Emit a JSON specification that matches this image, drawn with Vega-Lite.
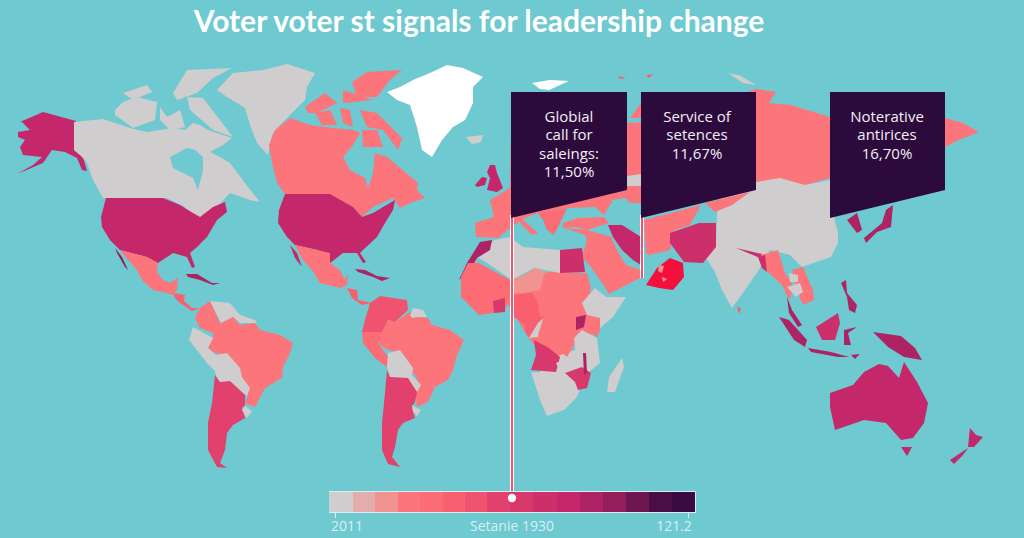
{"$schema":"https://vega.github.io/schema/vega-lite/v6.json","width":1024,"height":538,"padding":0,"autosize":{"type":"none"},"background":"#6FC9D1","config":{"view":{"stroke":null}},
"projection":{"type":"identity"},
"datasets":{"shapes":[
{"type":"Feature","properties":{"name":"ocean","band":"sea"},"geometry":{"type":"Polygon","coordinates":[[[0,0],[1024,0],[1024,538],[0,538],[0,0]]]}},
{"type":"Feature","properties":{"name":"Alaska A","band":"s10"},"geometry":{"type":"Polygon","coordinates":[[[20,122],[43,112],[76,121],[74,150],[83,157],[87,171],[82,170],[77,158],[65,152],[52,150],[43,163],[17,174],[33,165],[42,157],[23,155],[20,147],[25,140],[18,137],[18,132],[30,130],[22,122],[20,122]]]}},
{"type":"Feature","properties":{"name":"Canada A","band":"s0"},"geometry":{"type":"Polygon","coordinates":[[[74,122],[103,119],[130,128],[147,132],[173,128],[185,130],[193,123],[200,125],[208,130],[232,138],[223,145],[210,152],[220,157],[230,163],[248,187],[260,202],[250,200],[230,193],[217,207],[197,220],[190,222],[185,207],[167,198],[103,198],[93,180],[87,163],[82,157],[74,150],[74,122]]]}},
{"type":"Feature","properties":{"name":"Hudson A","band":"sea"},"geometry":{"type":"Polygon","coordinates":[[[170,157],[187,148],[195,150],[203,157],[203,170],[198,190],[193,178],[173,168],[170,157]]]}},
{"type":"Feature","properties":{"name":"Arctic A1","band":"s0"},"geometry":{"type":"Polygon","coordinates":[[[115,110],[123,102],[137,97],[157,102],[155,120],[133,128],[115,115],[115,110]]]}},
{"type":"Feature","properties":{"name":"Arctic A2","band":"s0"},"geometry":{"type":"Polygon","coordinates":[[[160,107],[167,117],[180,110],[185,127],[170,130],[160,120],[160,107]]]}},
{"type":"Feature","properties":{"name":"Arctic A3","band":"s0"},"geometry":{"type":"Polygon","coordinates":[[[123,93],[147,85],[152,92],[133,100],[123,93]]]}},
{"type":"Feature","properties":{"name":"Arctic A4","band":"s0"},"geometry":{"type":"Polygon","coordinates":[[[173,93],[187,70],[232,68],[213,78],[197,93],[177,100],[173,93]]]}},
{"type":"Feature","properties":{"name":"Arctic A5","band":"s0"},"geometry":{"type":"Polygon","coordinates":[[[187,97],[203,98],[233,137],[213,130],[190,110],[187,97]]]}},
{"type":"Feature","properties":{"name":"Greenland A","band":"s0"},"geometry":{"type":"Polygon","coordinates":[[[217,90],[233,73],[263,70],[287,64],[315,73],[307,87],[305,100],[297,108],[280,125],[272,135],[268,155],[257,143],[250,125],[245,108],[227,97],[217,90]]]}},
{"type":"Feature","properties":{"name":"Canada B","band":"s3"},"geometry":{"type":"Polygon","coordinates":[[[269,145],[275,130],[290,118],[310,125],[333,128],[353,130],[360,133],[353,145],[343,157],[350,170],[365,178],[368,188],[373,173],[375,153],[387,157],[405,172],[418,183],[417,190],[425,198],[410,203],[400,208],[393,198],[373,207],[362,217],[353,207],[340,200],[330,194],[285,194],[277,183],[272,163],[269,145]]]}},
{"type":"Feature","properties":{"name":"Arctic B1","band":"s3"},"geometry":{"type":"Polygon","coordinates":[[[352,82],[367,72],[402,70],[390,80],[377,97],[357,97],[352,82]]]}},
{"type":"Feature","properties":{"name":"Arctic B2","band":"s3"},"geometry":{"type":"Polygon","coordinates":[[[305,107],[325,93],[337,103],[317,113],[308,113],[305,107]]]}},
{"type":"Feature","properties":{"name":"Arctic B3","band":"s3"},"geometry":{"type":"Polygon","coordinates":[[[315,113],[330,110],[337,125],[322,125],[315,113]]]}},
{"type":"Feature","properties":{"name":"Arctic B4","band":"s3"},"geometry":{"type":"Polygon","coordinates":[[[360,110],[377,113],[402,138],[398,150],[383,130],[367,127],[363,118],[360,110]]]}},
{"type":"Feature","properties":{"name":"Arctic B5","band":"s3"},"geometry":{"type":"Polygon","coordinates":[[[340,108],[350,110],[353,127],[343,123],[340,108]]]}},
{"type":"Feature","properties":{"name":"Arctic B6","band":"s3"},"geometry":{"type":"Polygon","coordinates":[[[343,90],[373,100],[343,103],[343,90]]]}},
{"type":"Feature","properties":{"name":"Arctic B7","band":"s3"},"geometry":{"type":"Polygon","coordinates":[[[362,130],[377,130],[383,147],[363,147],[362,130]]]}},
{"type":"Feature","properties":{"name":"USA A","band":"s10"},"geometry":{"type":"Polygon","coordinates":[[[106,198],[163,198],[180,205],[193,213],[200,217],[213,207],[225,202],[227,212],[217,220],[207,237],[197,247],[190,253],[195,267],[192,268],[187,257],[173,253],[158,263],[147,257],[120,250],[110,240],[102,227],[101,217],[106,198]]]}},
{"type":"Feature","properties":{"name":"USA B","band":"s10"},"geometry":{"type":"Polygon","coordinates":[[[285,194],[330,194],[353,207],[362,217],[373,213],[395,200],[393,210],[385,223],[377,237],[363,250],[360,253],[366,262],[363,263],[357,253],[343,253],[330,263],[318,250],[295,245],[287,237],[278,223],[279,210],[285,194]]]}},
{"type":"Feature","properties":{"name":"Baja A","band":"s12"},"geometry":{"type":"Polygon","coordinates":[[[115,248],[122,257],[128,270],[125,267],[117,253],[115,248]]]}},
{"type":"Feature","properties":{"name":"Baja B","band":"s10"},"geometry":{"type":"Polygon","coordinates":[[[290,245],[297,253],[302,267],[295,258],[290,245]]]}},
{"type":"Feature","properties":{"name":"Mexico A","band":"s3"},"geometry":{"type":"Polygon","coordinates":[[[120,250],[147,257],[158,263],[157,272],[163,280],[170,283],[178,278],[177,290],[172,295],[167,293],[153,290],[142,280],[137,270],[128,260],[120,250]]]}},
{"type":"Feature","properties":{"name":"Mexico B","band":"s3"},"geometry":{"type":"Polygon","coordinates":[[[295,245],[330,253],[330,263],[340,270],[345,280],[348,273],[347,285],[340,288],[320,283],[312,270],[303,260],[295,245]]]}},
{"type":"Feature","properties":{"name":"Central America A","band":"s5"},"geometry":{"type":"Polygon","coordinates":[[[173,293],[185,295],[184,301],[192,308],[200,308],[192,311],[180,303],[175,298],[173,293]]]}},
{"type":"Feature","properties":{"name":"Central America B","band":"s5"},"geometry":{"type":"Polygon","coordinates":[[[347,288],[357,290],[358,300],[372,303],[362,305],[352,298],[347,288]]]}},
{"type":"Feature","properties":{"name":"Cuba A","band":"s11"},"geometry":{"type":"Polygon","coordinates":[[[186,274],[197,274],[212,283],[220,283],[213,285],[200,280],[188,277],[186,274]]]}},
{"type":"Feature","properties":{"name":"Cuba B","band":"s11"},"geometry":{"type":"Polygon","coordinates":[[[355,269],[365,270],[377,276],[390,278],[382,281],[373,277],[358,272],[355,269]]]}},
{"type":"Feature","properties":{"name":"Colombia A","band":"s3"},"geometry":{"type":"Polygon","coordinates":[[[210,301],[220,323],[213,333],[200,328],[195,318],[200,308],[210,301]]]}},
{"type":"Feature","properties":{"name":"Venezuela A","band":"s0"},"geometry":{"type":"Polygon","coordinates":[[[210,301],[230,303],[240,315],[255,320],[257,323],[240,323],[233,317],[222,325],[210,301]]]}},
{"type":"Feature","properties":{"name":"Brazil A","band":"s3"},"geometry":{"type":"Polygon","coordinates":[[[213,327],[233,317],[240,325],[255,323],[260,330],[280,335],[293,343],[290,353],[283,367],[282,378],[265,388],[255,407],[245,403],[248,395],[240,373],[227,355],[215,353],[207,347],[208,342],[213,338],[213,327]]]}},
{"type":"Feature","properties":{"name":"Peru A","band":"s0"},"geometry":{"type":"Polygon","coordinates":[[[193,327],[213,338],[208,348],[216,355],[216,372],[207,363],[189,340],[193,327]]]}},
{"type":"Feature","properties":{"name":"Bolivia A","band":"s0"},"geometry":{"type":"Polygon","coordinates":[[[216,355],[227,353],[240,368],[242,377],[250,388],[247,396],[230,382],[218,382],[215,372],[216,355]]]}},
{"type":"Feature","properties":{"name":"Argentina A","band":"s7"},"geometry":{"type":"Polygon","coordinates":[[[215,375],[220,382],[230,381],[245,395],[245,405],[242,408],[245,418],[233,425],[227,433],[225,450],[220,463],[227,468],[217,467],[208,450],[208,423],[212,403],[215,375]]]}},
{"type":"Feature","properties":{"name":"Uruguay A","band":"s0"},"geometry":{"type":"Polygon","coordinates":[[[245,406],[252,411],[247,418],[242,410],[245,406]]]}},
{"type":"Feature","properties":{"name":"Colombia B","band":"s6"},"geometry":{"type":"Polygon","coordinates":[[[370,303],[380,296],[407,300],[408,310],[395,322],[388,320],[383,332],[378,340],[370,333],[362,332],[365,320],[370,303]]]}},
{"type":"Feature","properties":{"name":"Peru B","band":"s4"},"geometry":{"type":"Polygon","coordinates":[[[362,332],[377,332],[383,332],[378,343],[388,357],[387,367],[375,358],[363,343],[362,332]]]}},
{"type":"Feature","properties":{"name":"Brazil B","band":"s3"},"geometry":{"type":"Polygon","coordinates":[[[378,340],[388,320],[395,322],[410,312],[417,317],[428,318],[432,325],[450,330],[464,340],[457,355],[453,370],[448,380],[435,387],[428,402],[417,407],[415,393],[420,385],[412,370],[402,353],[388,350],[380,345],[378,340]]]}},
{"type":"Feature","properties":{"name":"Guyana B","band":"s0"},"geometry":{"type":"Polygon","coordinates":[[[410,315],[413,308],[423,310],[427,317],[417,317],[412,318],[410,315]]]}},
{"type":"Feature","properties":{"name":"Bolivia B","band":"s0"},"geometry":{"type":"Polygon","coordinates":[[[388,353],[400,350],[413,368],[412,375],[421,385],[417,392],[408,380],[390,377],[387,367],[388,353]]]}},
{"type":"Feature","properties":{"name":"Argentina B","band":"s7"},"geometry":{"type":"Polygon","coordinates":[[[387,370],[390,377],[408,378],[417,392],[415,402],[412,407],[415,418],[403,423],[398,430],[395,447],[392,457],[400,467],[388,464],[382,450],[382,423],[385,393],[387,370]]]}},
{"type":"Feature","properties":{"name":"Uruguay B","band":"s0"},"geometry":{"type":"Polygon","coordinates":[[[412,405],[421,410],[417,416],[413,412],[412,405]]]}},
{"type":"Feature","properties":{"name":"Greenland B","band":"white"},"geometry":{"type":"Polygon","coordinates":[[[387,92],[400,87],[413,80],[430,73],[447,65],[463,68],[483,77],[473,87],[473,103],[465,120],[453,127],[442,140],[432,157],[422,150],[417,127],[410,105],[397,100],[387,92]]]}},
{"type":"Feature","properties":{"name":"Iceland","band":"s0"},"geometry":{"type":"Polygon","coordinates":[[[466,137],[483,135],[481,142],[472,144],[466,137]]]}},
{"type":"Feature","properties":{"name":"Svalbard","band":"white"},"geometry":{"type":"Polygon","coordinates":[[[532,83],[550,80],[569,81],[549,90],[540,89],[532,83]]]}},
{"type":"Feature","properties":{"name":"Novaya Zemlya","band":"s0"},"geometry":{"type":"Polygon","coordinates":[[[728,73],[739,75],[756,85],[743,83],[728,73]]]}},
{"type":"Feature","properties":{"name":"Islet 1","band":"s5"},"geometry":{"type":"Polygon","coordinates":[[[618,76],[626,78],[620,79],[618,76]]]}},
{"type":"Feature","properties":{"name":"Islet 2","band":"s5"},"geometry":{"type":"Polygon","coordinates":[[[646,75],[653,74],[649,78],[646,75]]]}},
{"type":"Feature","properties":{"name":"Ireland","band":"s10"},"geometry":{"type":"Polygon","coordinates":[[[475,185],[482,177],[487,178],[485,185],[477,187],[475,185]]]}},
{"type":"Feature","properties":{"name":"Britain","band":"s10"},"geometry":{"type":"Polygon","coordinates":[[[490,165],[495,165],[497,173],[503,188],[497,192],[487,190],[490,178],[487,172],[490,165]]]}},
{"type":"Feature","properties":{"name":"Russia","band":"s3"},"geometry":{"type":"Polygon","coordinates":[[[756,89],[776,92],[769,103],[791,105],[830,117],[945,118],[963,123],[979,132],[959,140],[945,147],[880,190],[830,178],[805,185],[778,180],[756,185],[641,205],[641,130],[756,89]]]}},
{"type":"Feature","properties":{"name":"Scandinavia","band":"s3"},"geometry":{"type":"Polygon","coordinates":[[[630,118],[641,103],[645,118],[630,118]]]}},
{"type":"Feature","properties":{"name":"Europe","band":"s3"},"geometry":{"type":"Polygon","coordinates":[[[475,223],[494,217],[490,200],[510,188],[511,130],[645,122],[645,203],[611,203],[604,215],[595,207],[567,208],[538,213],[525,218],[510,228],[498,238],[476,237],[475,223]]]}},
{"type":"Feature","properties":{"name":"Caucasus","band":"s0"},"geometry":{"type":"Polygon","coordinates":[[[627,176],[641,174],[641,186],[627,186],[627,176]]]}},
{"type":"Feature","properties":{"name":"Caspian","band":"sea"},"geometry":{"type":"Polygon","coordinates":[[[611,200],[626,198],[633,208],[641,210],[641,222],[637,223],[622,217],[611,200]]]}},
{"type":"Feature","properties":{"name":"Italy","band":"s3"},"geometry":{"type":"Polygon","coordinates":[[[521,218],[538,233],[532,235],[520,223],[521,218]]]}},
{"type":"Feature","properties":{"name":"Balkans","band":"s4"},"geometry":{"type":"Polygon","coordinates":[[[538,213],[567,208],[563,217],[554,235],[547,230],[543,220],[538,213]]]}},
{"type":"Feature","properties":{"name":"Turkey","band":"s3"},"geometry":{"type":"Polygon","coordinates":[[[563,223],[578,218],[604,217],[609,223],[587,230],[576,227],[563,228],[563,223]]]}},
{"type":"Feature","properties":{"name":"Asia grey","band":"s0"},"geometry":{"type":"Polygon","coordinates":[[[720,195],[756,182],[780,178],[805,185],[830,180],[835,222],[838,232],[838,243],[831,257],[802,267],[790,255],[770,250],[760,268],[745,290],[732,308],[722,290],[715,272],[706,258],[716,240],[717,215],[720,195]]]}},
{"type":"Feature","properties":{"name":"Kazakh patch","band":"s3"},"geometry":{"type":"Polygon","coordinates":[[[705,203],[750,192],[732,205],[715,212],[705,203]]]}},
{"type":"Feature","properties":{"name":"Korea","band":"s11"},"geometry":{"type":"Polygon","coordinates":[[[847,220],[857,213],[862,230],[857,233],[847,220]]]}},
{"type":"Feature","properties":{"name":"Japan","band":"s11"},"geometry":{"type":"Polygon","coordinates":[[[864,238],[882,223],[886,210],[893,205],[891,227],[877,232],[866,243],[864,238]]]}},
{"type":"Feature","properties":{"name":"Arabia","band":"s3"},"geometry":{"type":"Polygon","coordinates":[[[564,228],[587,230],[611,237],[618,252],[626,265],[640,270],[642,277],[609,294],[602,283],[591,267],[582,257],[587,240],[585,235],[564,228]]]}},
{"type":"Feature","properties":{"name":"Iran","band":"s10"},"geometry":{"type":"Polygon","coordinates":[[[608,225],[622,225],[641,237],[641,265],[633,260],[622,250],[613,237],[608,225]]]}},
{"type":"Feature","properties":{"name":"Central Asia","band":"s3"},"geometry":{"type":"Polygon","coordinates":[[[644,220],[701,205],[690,225],[675,230],[670,250],[650,255],[646,253],[644,220]]]}},
{"type":"Feature","properties":{"name":"Pakistan","band":"s9"},"geometry":{"type":"Polygon","coordinates":[[[670,233],[699,223],[716,223],[716,247],[703,263],[684,262],[670,243],[670,233]]]}},
{"type":"Feature","properties":{"name":"Highlighted","band":"red"},"geometry":{"type":"Polygon","coordinates":[[[646,285],[657,268],[670,258],[683,263],[684,277],[673,290],[659,288],[646,285]]]}},
{"type":"Feature","properties":{"name":"Spot 1","band":"s2"},"geometry":{"type":"Polygon","coordinates":[[[659,265],[664,266],[662,273],[658,271],[659,265]]]}},
{"type":"Feature","properties":{"name":"Spot 2","band":"s2"},"geometry":{"type":"Polygon","coordinates":[[[662,277],[667,279],[663,282],[662,277]]]}},
{"type":"Feature","properties":{"name":"Africa underlay north","band":"s3"},"geometry":{"type":"Polygon","coordinates":[[[505,280],[560,270],[590,290],[600,330],[574,345],[560,362],[534,345],[525,332],[505,300],[505,280]]]}},
{"type":"Feature","properties":{"name":"Africa underlay south","band":"s0"},"geometry":{"type":"Polygon","coordinates":[[[540,362],[575,350],[600,362],[589,372],[576,398],[540,398],[540,362]]]}},
{"type":"Feature","properties":{"name":"North Africa","band":"s0"},"geometry":{"type":"Polygon","coordinates":[[[477,257],[494,240],[510,237],[523,247],[560,250],[560,273],[534,268],[512,280],[487,263],[477,257]]]}},
{"type":"Feature","properties":{"name":"Morocco","band":"s11"},"geometry":{"type":"Polygon","coordinates":[[[459,280],[467,263],[480,242],[492,240],[490,250],[477,258],[470,270],[459,280]]]}},
{"type":"Feature","properties":{"name":"West Africa","band":"s4"},"geometry":{"type":"Polygon","coordinates":[[[461,277],[468,263],[479,263],[510,280],[509,297],[505,310],[493,313],[479,315],[461,297],[461,277]]]}},
{"type":"Feature","properties":{"name":"Ghana","band":"s8"},"geometry":{"type":"Polygon","coordinates":[[[493,301],[505,298],[505,312],[494,313],[493,301]]]}},
{"type":"Feature","properties":{"name":"Egypt","band":"s9"},"geometry":{"type":"Polygon","coordinates":[[[560,250],[582,248],[585,272],[560,273],[560,250]]]}},
{"type":"Feature","properties":{"name":"Sudan","band":"s3"},"geometry":{"type":"Polygon","coordinates":[[[560,273],[587,273],[591,288],[582,303],[556,297],[560,273]]]}},
{"type":"Feature","properties":{"name":"Chad","band":"s2"},"geometry":{"type":"Polygon","coordinates":[[[514,280],[536,268],[545,272],[540,290],[523,293],[514,293],[514,280]]]}},
{"type":"Feature","properties":{"name":"Nigeria","band":"s5"},"geometry":{"type":"Polygon","coordinates":[[[514,295],[532,293],[538,303],[540,317],[525,318],[525,325],[514,317],[514,295]]]}},
{"type":"Feature","properties":{"name":"Gabon","band":"s5"},"geometry":{"type":"Polygon","coordinates":[[[525,318],[540,317],[547,315],[538,323],[529,338],[525,332],[525,318]]]}},
{"type":"Feature","properties":{"name":"Congo grey","band":"s0"},"geometry":{"type":"Polygon","coordinates":[[[529,338],[538,323],[547,315],[545,325],[538,337],[529,338]]]}},
{"type":"Feature","properties":{"name":"DRC","band":"s3"},"geometry":{"type":"Polygon","coordinates":[[[544,316],[556,315],[576,312],[576,330],[573,337],[573,347],[567,357],[556,348],[538,335],[544,316]]]}},
{"type":"Feature","properties":{"name":"Uganda","band":"s11"},"geometry":{"type":"Polygon","coordinates":[[[576,317],[586,315],[584,327],[576,330],[576,317]]]}},
{"type":"Feature","properties":{"name":"Horn","band":"s0"},"geometry":{"type":"Polygon","coordinates":[[[595,288],[606,297],[626,297],[613,317],[600,328],[600,318],[587,315],[582,303],[595,288]]]}},
{"type":"Feature","properties":{"name":"Tanzania","band":"s0"},"geometry":{"type":"Polygon","coordinates":[[[574,338],[582,330],[597,338],[600,363],[589,372],[576,357],[574,338]]]}},
{"type":"Feature","properties":{"name":"Kenya","band":"s3"},"geometry":{"type":"Polygon","coordinates":[[[587,317],[600,318],[600,330],[597,337],[587,330],[587,317]]]}},
{"type":"Feature","properties":{"name":"Angola","band":"s8"},"geometry":{"type":"Polygon","coordinates":[[[534,340],[549,348],[560,357],[556,372],[531,370],[536,355],[534,340]]]}},
{"type":"Feature","properties":{"name":"Zambia","band":"s0"},"geometry":{"type":"Polygon","coordinates":[[[556,363],[567,358],[576,355],[582,360],[576,367],[560,372],[556,363]]]}},
{"type":"Feature","properties":{"name":"South Africa","band":"s0"},"geometry":{"type":"Polygon","coordinates":[[[531,372],[560,373],[565,375],[576,383],[576,398],[564,410],[547,416],[540,400],[531,372]]]}},
{"type":"Feature","properties":{"name":"Mozambique","band":"s8"},"geometry":{"type":"Polygon","coordinates":[[[565,373],[582,367],[591,373],[587,388],[578,390],[575,382],[565,373]]]}},
{"type":"Feature","properties":{"name":"Malawi","band":"s11"},"geometry":{"type":"Polygon","coordinates":[[[583,353],[586,353],[587,373],[584,375],[583,353]]]}},
{"type":"Feature","properties":{"name":"Madagascar","band":"s0"},"geometry":{"type":"Polygon","coordinates":[[[622,358],[624,367],[615,392],[607,392],[609,377],[622,358]]]}},
{"type":"Feature","properties":{"name":"Sri Lanka","band":"s5"},"geometry":{"type":"Polygon","coordinates":[[[737,307],[741,308],[739,314],[737,307]]]}},
{"type":"Feature","properties":{"name":"Bengal strip","band":"s9"},"geometry":{"type":"Polygon","coordinates":[[[736,248],[762,254],[760,258],[736,248]]]}},
{"type":"Feature","properties":{"name":"Burma","band":"s3"},"geometry":{"type":"Polygon","coordinates":[[[761,255],[778,250],[785,273],[794,287],[789,300],[782,285],[769,273],[761,267],[761,255]]]}},
{"type":"Feature","properties":{"name":"Bangladesh","band":"s9"},"geometry":{"type":"Polygon","coordinates":[[[758,257],[765,255],[767,272],[762,268],[758,257]]]}},
{"type":"Feature","properties":{"name":"Vietnam","band":"s3"},"geometry":{"type":"Polygon","coordinates":[[[792,270],[803,267],[813,290],[814,300],[803,305],[800,298],[792,270]]]}},
{"type":"Feature","properties":{"name":"Laos","band":"s0"},"geometry":{"type":"Polygon","coordinates":[[[789,273],[798,275],[798,282],[790,282],[789,273]]]}},
{"type":"Feature","properties":{"name":"Thailand","band":"s0"},"geometry":{"type":"Polygon","coordinates":[[[787,287],[800,283],[803,292],[796,297],[787,287]]]}},
{"type":"Feature","properties":{"name":"Malaysia","band":"s11"},"geometry":{"type":"Polygon","coordinates":[[[787,297],[792,310],[802,325],[798,327],[789,313],[787,297]]]}},
{"type":"Feature","properties":{"name":"Sumatra","band":"s11"},"geometry":{"type":"Polygon","coordinates":[[[779,317],[789,320],[807,340],[805,347],[794,340],[779,317]]]}},
{"type":"Feature","properties":{"name":"Java","band":"s11"},"geometry":{"type":"Polygon","coordinates":[[[808,348],[831,352],[849,357],[838,357],[811,352],[808,348]]]}},
{"type":"Feature","properties":{"name":"Borneo","band":"s9"},"geometry":{"type":"Polygon","coordinates":[[[816,327],[838,313],[840,323],[835,340],[822,340],[816,327]]]}},
{"type":"Feature","properties":{"name":"Sulawesi","band":"s11"},"geometry":{"type":"Polygon","coordinates":[[[844,330],[857,327],[848,333],[851,345],[844,345],[844,330]]]}},
{"type":"Feature","properties":{"name":"Philippines","band":"s11"},"geometry":{"type":"Polygon","coordinates":[[[841,283],[846,280],[847,293],[857,305],[855,313],[849,310],[847,297],[841,283]]]}},
{"type":"Feature","properties":{"name":"New Guinea","band":"s11"},"geometry":{"type":"Polygon","coordinates":[[[873,332],[901,336],[915,348],[922,360],[904,357],[888,347],[873,332]]]}},
{"type":"Feature","properties":{"name":"Timor","band":"s11"},"geometry":{"type":"Polygon","coordinates":[[[851,355],[860,354],[855,359],[851,355]]]}},
{"type":"Feature","properties":{"name":"Australia","band":"s10"},"geometry":{"type":"Polygon","coordinates":[[[830,393],[853,385],[864,372],[879,364],[888,366],[899,378],[904,362],[917,382],[928,403],[924,423],[913,438],[901,440],[886,423],[864,420],[835,430],[830,407],[830,393]]]}},
{"type":"Feature","properties":{"name":"Tasmania","band":"s10"},"geometry":{"type":"Polygon","coordinates":[[[901,447],[912,447],[907,456],[901,447]]]}},
{"type":"Feature","properties":{"name":"NZ north","band":"s10"},"geometry":{"type":"Polygon","coordinates":[[[970,428],[976,435],[983,437],[974,447],[968,447],[970,428]]]}},
{"type":"Feature","properties":{"name":"NZ south","band":"s10"},"geometry":{"type":"Polygon","coordinates":[[[968,448],[963,455],[954,464],[950,460],[968,448]]]}},
{"type":"Feature","properties":{"name":"Leader 1 casing","band":"white"},"geometry":{"type":"Polygon","coordinates":[[[510,215],[514,215],[514,498],[510,498],[510,215]]]}},
{"type":"Feature","properties":{"name":"Leader 1 core","band":"s6"},"geometry":{"type":"Polygon","coordinates":[[[511,215],[513,215],[513,498],[511,498],[511,215]]]}},
{"type":"Feature","properties":{"name":"Leader 2 casing","band":"white"},"geometry":{"type":"Polygon","coordinates":[[[640,215],[644,215],[644,278],[640,278],[640,215]]]}},
{"type":"Feature","properties":{"name":"Leader 2 core","band":"s6"},"geometry":{"type":"Polygon","coordinates":[[[641,215],[643,215],[643,278],[641,278],[641,215]]]}},
{"type":"Feature","properties":{"name":"Callout 1","band":"box"},"geometry":{"type":"Polygon","coordinates":[[[511,92],[627,92],[627,190],[511,218],[511,92]]]}},
{"type":"Feature","properties":{"name":"Callout 2","band":"box"},"geometry":{"type":"Polygon","coordinates":[[[641,92],[756,92],[756,190],[641,218],[641,92]]]}},
{"type":"Feature","properties":{"name":"Callout 3","band":"box"},"geometry":{"type":"Polygon","coordinates":[[[830,92],[945,92],[945,190],[830,218],[830,92]]]}},
{"type":"Feature","properties":{"name":"Legend frame","band":"frame"},"geometry":{"type":"Polygon","coordinates":[[[329,491],[696,491],[696,513],[329,513],[329,491]]]}},
{"type":"Feature","properties":{"name":"Tick left","band":"frame"},"geometry":{"type":"Polygon","coordinates":[[[335,512],[336,512],[336,518],[335,518],[335,512]]]}},
{"type":"Feature","properties":{"name":"Tick right","band":"frame"},"geometry":{"type":"Polygon","coordinates":[[[688,512],[689,512],[689,518],[688,518],[688,512]]]}},
{"type":"Feature","properties":{"name":"Cell 0","band":"s0"},"geometry":{"type":"Polygon","coordinates":[[[329,492],[353,492],[353,512],[329,512],[329,492]]]}},
{"type":"Feature","properties":{"name":"Cell 1","band":"s1"},"geometry":{"type":"Polygon","coordinates":[[[353,492],[375,492],[375,512],[353,512],[353,492]]]}},
{"type":"Feature","properties":{"name":"Cell 2","band":"s2"},"geometry":{"type":"Polygon","coordinates":[[[375,492],[398,492],[398,512],[375,512],[375,492]]]}},
{"type":"Feature","properties":{"name":"Cell 3","band":"s3"},"geometry":{"type":"Polygon","coordinates":[[[398,492],[420,492],[420,512],[398,512],[398,492]]]}},
{"type":"Feature","properties":{"name":"Cell 4","band":"s4"},"geometry":{"type":"Polygon","coordinates":[[[420,492],[443,492],[443,512],[420,512],[420,492]]]}},
{"type":"Feature","properties":{"name":"Cell 5","band":"s5"},"geometry":{"type":"Polygon","coordinates":[[[443,492],[465,492],[465,512],[443,512],[443,492]]]}},
{"type":"Feature","properties":{"name":"Cell 6","band":"s6"},"geometry":{"type":"Polygon","coordinates":[[[465,492],[487,492],[487,512],[465,512],[465,492]]]}},
{"type":"Feature","properties":{"name":"Cell 7","band":"s7"},"geometry":{"type":"Polygon","coordinates":[[[487,492],[510,492],[510,512],[487,512],[487,492]]]}},
{"type":"Feature","properties":{"name":"Cell 8","band":"s8"},"geometry":{"type":"Polygon","coordinates":[[[510,492],[533,492],[533,512],[510,512],[510,492]]]}},
{"type":"Feature","properties":{"name":"Cell 9","band":"s9"},"geometry":{"type":"Polygon","coordinates":[[[533,492],[557,492],[557,512],[533,512],[533,492]]]}},
{"type":"Feature","properties":{"name":"Cell 10","band":"s10"},"geometry":{"type":"Polygon","coordinates":[[[557,492],[580,492],[580,512],[557,512],[557,492]]]}},
{"type":"Feature","properties":{"name":"Cell 11","band":"s11"},"geometry":{"type":"Polygon","coordinates":[[[580,492],[603,492],[603,512],[580,512],[580,492]]]}},
{"type":"Feature","properties":{"name":"Cell 12","band":"s12"},"geometry":{"type":"Polygon","coordinates":[[[603,492],[626,492],[626,512],[603,512],[603,492]]]}},
{"type":"Feature","properties":{"name":"Cell 13","band":"s13"},"geometry":{"type":"Polygon","coordinates":[[[626,492],[649,492],[649,512],[626,512],[626,492]]]}},
{"type":"Feature","properties":{"name":"Cell 14","band":"s14"},"geometry":{"type":"Polygon","coordinates":[[[649,492],[672,492],[672,512],[649,512],[649,492]]]}},
{"type":"Feature","properties":{"name":"Cell 15","band":"s15"},"geometry":{"type":"Polygon","coordinates":[[[672,492],[695,492],[695,512],[672,512],[672,492]]]}}
],
"titleText":[{"lon":479,"lat":23,"text":"Voter voter st signals for leadership change"}],
"calloutText":[
{"lon":569,"lat":117,"text":"Globial"},{"lon":569,"lat":135,"text":"call for"},{"lon":569,"lat":154,"text":"saleings:"},{"lon":569,"lat":172,"text":"11,50%"},
{"lon":697,"lat":117,"text":"Service of"},{"lon":697,"lat":135,"text":"setences"},{"lon":697,"lat":154,"text":"11,67%"},
{"lon":887,"lat":117,"text":"Noterative"},{"lon":887,"lat":135,"text":"antirices"},{"lon":887,"lat":154,"text":"16,70%"}],
"legendText":[{"lon":347,"lat":527,"text":"2011"},{"lon":512,"lat":527,"text":"Setanie 1930"},{"lon":674,"lat":527,"text":"121.2"}],
"markers":[{"lon":512,"lat":498}]},
"layer":[
{"data":{"name":"shapes"},"mark":{"type":"geoshape","stroke":null,"strokeWidth":0},"encoding":{"color":{"field":"properties.band","type":"nominal","legend":null,"scale":{"domain":["sea","white","red","box","frame","s0","s1","s2","s3","s4","s5","s6","s7","s8","s9","s10","s11","s12","s13","s14","s15"],"range":["#6FC9D1","#FFFFFF","#F4103D","#2C0A3C","#D9EEF0","#CFCDCD","#E3ADAC","#F19490","#FB757B","#FB6C75","#F9606F","#EF5370","#E2416D","#D8386C","#CC2F69","#C4276A","#AE2364","#931E5B","#6D1650","#4A0E47","#3C0A42"]}}}},
{"data":{"name":"markers"},"mark":{"type":"point","filled":true,"color":"#FFFFFF","opacity":1,"size":70},"encoding":{"longitude":{"field":"lon","type":"quantitative"},"latitude":{"field":"lat","type":"quantitative"}}},
{"data":{"name":"titleText"},"mark":{"type":"text","font":"Lato","fontWeight":"bold","fontSize":30,"color":"#FFFFFF","align":"center","baseline":"middle"},"encoding":{"longitude":{"field":"lon","type":"quantitative"},"latitude":{"field":"lat","type":"quantitative"},"text":{"field":"text"}}},
{"data":{"name":"calloutText"},"mark":{"type":"text","font":"Open Sans","fontSize":15,"color":"#F4EEF6","align":"center","baseline":"middle"},"encoding":{"longitude":{"field":"lon","type":"quantitative"},"latitude":{"field":"lat","type":"quantitative"},"text":{"field":"text"}}},
{"data":{"name":"legendText"},"mark":{"type":"text","font":"Open Sans","fontSize":14,"color":"#D8F0F2","align":"center","baseline":"middle"},"encoding":{"longitude":{"field":"lon","type":"quantitative"},"latitude":{"field":"lat","type":"quantitative"},"text":{"field":"text"}}}
]}
